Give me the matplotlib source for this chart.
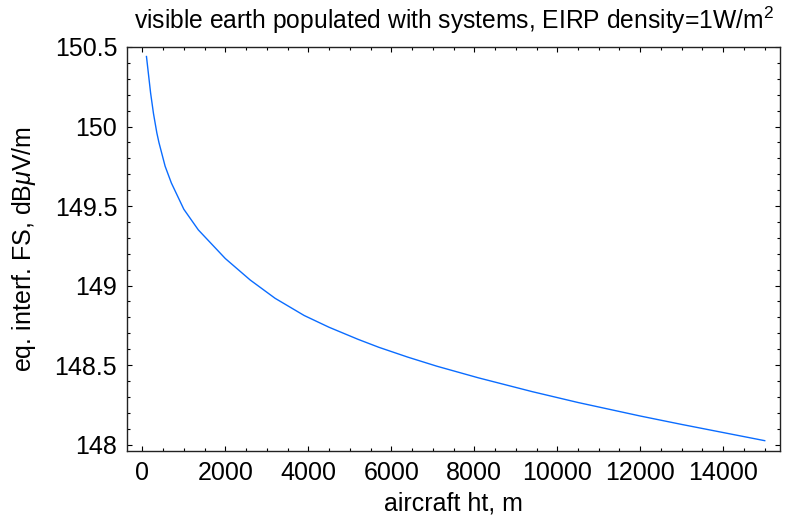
import numpy as np
import matplotlib
matplotlib.use("Agg")
import matplotlib.pyplot as plt
from matplotlib.ticker import MultipleLocator

# aircraft height (m) and equivalent interfering field strength (dBuV/m)
height = [100, 200, 270, 350, 400, 550, 700, 1000, 1350, 2000, 2600, 3200, 3900,
          4500, 5200, 5700, 6400, 7100, 8100, 9400, 10500, 12000, 13000, 15000]
fs = [150.44, 150.21, 150.08, 149.96, 149.90, 149.75, 149.645, 149.48, 149.35,
      149.17, 149.035, 148.92, 148.812, 148.738, 148.662, 148.612, 148.55,
      148.493, 148.42, 148.333, 148.265, 148.18, 148.127, 148.025]

plt.rcParams['font.family'] = ['Liberation Sans', 'DejaVu Sans']
plt.rcParams['mathtext.fontset'] = 'custom'
plt.rcParams['mathtext.rm'] = 'Liberation Sans'
plt.rcParams['mathtext.it'] = 'Liberation Sans:italic'

fig = plt.figure(figsize=(7.96, 5.19), dpi=100)
ax = fig.add_axes([0.1595, 0.131, 0.8205, 0.7785])

ax.plot(height, fs, color='#0a6cff', lw=1.0)

ax.set_xlim(-370, 15370)
ax.set_ylim(147.96, 150.5)

ax.xaxis.set_major_locator(MultipleLocator(2000))
ax.xaxis.set_minor_locator(MultipleLocator(500))
ax.yaxis.set_minor_locator(MultipleLocator(0.1))
ax.set_yticks([148, 148.5, 149, 149.5, 150, 150.5])
ax.set_yticklabels(['148', '148.5', '149', '149.5', '150', '150.5'])

ax.tick_params(which='both', direction='in', top=True, right=True, labelsize=18)
ax.tick_params(which='major', length=3.5, width=0.8, pad=7)
ax.tick_params(which='minor', length=2, width=0.8)
for s in ax.spines.values():
    s.set_linewidth(1.0)
    s.set_color('#222222')

ax.set_title('visible earth populated with systems, EIRP density=1W/m$^2$', fontsize=17.7, pad=13)
ax.set_xlabel('aircraft ht, m', fontsize=18, labelpad=5)
ax.set_ylabel(r'eq. interf. FS, dB$\mu$V/m', fontsize=18, labelpad=12)

fig.savefig('out.png', dpi=100)
